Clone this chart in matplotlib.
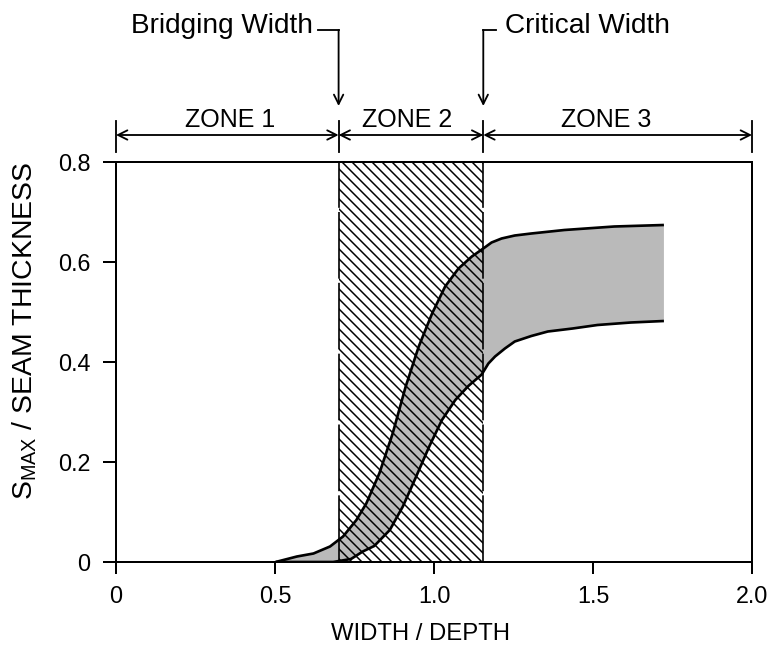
import numpy as np
import matplotlib
matplotlib.use('Agg')
import matplotlib.pyplot as plt

# ---- data ----
upper_x = [0.502, 0.569, 0.621, 0.673, 0.714, 0.756, 0.787, 0.828, 0.870, 0.911,
           0.952, 0.994, 1.035, 1.077, 1.119, 1.155, 1.181, 1.2125, 1.254, 1.306,
           1.410, 1.567, 1.723]
upper_y = [0.0, 0.011, 0.017, 0.031, 0.051, 0.084, 0.117, 0.177, 0.257, 0.351,
           0.431, 0.497, 0.551, 0.587, 0.611, 0.627, 0.639, 0.647, 0.653, 0.657,
           0.664, 0.671, 0.674]

lower_x = [0.502, 0.683, 0.739, 0.776, 0.812, 0.861, 0.902, 0.944, 0.985, 1.025,
           1.067, 1.108, 1.150, 1.171, 1.192, 1.223, 1.254, 1.306, 1.358, 1.436,
           1.514, 1.619, 1.723]
lower_y = [0.0, 0.0, 0.006, 0.021, 0.032, 0.064, 0.111, 0.171, 0.231, 0.284,
           0.324, 0.352, 0.375, 0.397, 0.411, 0.427, 0.441, 0.452, 0.461, 0.467,
           0.474, 0.479, 0.482]

zone_edges = [0.0, 0.70, 1.155, 2.0]
zone_labels = ['ZONE 1', 'ZONE 2', 'ZONE 3']
zone_label_x = [0.358, 0.915, 1.541]

xticks = [0, 0.5, 1.0, 1.5, 2.0]
xticklabels = ['0', '0.5', '1.0', '1.5', '2.0']
yticks = [0, 0.2, 0.4, 0.6, 0.8]
yticklabels = ['0', '0.2', '0.4', '0.6', '0.8']

# ---- style ----
plt.rcParams['font.family'] = ['Liberation Sans', 'DejaVu Sans']
plt.rcParams['hatch.linewidth'] = 0.9
plt.rcParams['hatch.color'] = 'black'

W, H, DPI = 771, 646, 120
fig = plt.figure(figsize=(W / DPI, H / DPI), dpi=DPI)
ax = fig.add_axes([116 / W, 1 - 562 / H, (752 - 116) / W, (562 - 162) / H])

ax.set_xlim(0, 2.0)
ax.set_ylim(0, 0.8)

# stippled band between the curves
band_x = np.concatenate([upper_x, lower_x[::-1]])
band_y = np.concatenate([upper_y, lower_y[::-1]])
ax.fill(band_x, band_y, facecolor='#bababa', edgecolor='none', zorder=1)

# hatched zone 2 box
ax.fill_between([zone_edges[1], zone_edges[2]], 0, 0.8, facecolor='none',
                edgecolor='black', hatch='\\\\\\\\', linewidth=0, zorder=2)
for e in zone_edges[1:3]:
    ax.plot([e, e], [0, 0.8], color='black', lw=1.0,
            linestyle=(0, (40, 2.5)), zorder=3)

# curves
ax.plot(upper_x, upper_y, color='black', lw=1.6, zorder=4,
        solid_joinstyle='round', solid_capstyle='butt')
ax.plot(lower_x, lower_y, color='black', lw=1.6, zorder=4,
        solid_joinstyle='round', solid_capstyle='butt')

# axes styling
for s in ax.spines.values():
    s.set_linewidth(1.2)
ax.set_xticks(xticks)
ax.set_xticklabels(xticklabels, fontsize=14)
ax.set_yticks(yticks)
ax.set_yticklabels(yticklabels, fontsize=14)
ax.tick_params(axis='x', direction='out', length=7, width=1.2, pad=7)
ax.tick_params(axis='y', direction='out', length=8, width=1.2, pad=7.5)

fig.text(421 / W, 1 - 634 / H, 'WIDTH / DEPTH', fontsize=14.3, ha='center',
         va='center')
fig.text(25 / W, 1 - 331 / H, r'S$_{\mathregular{MAX}}$ / SEAM THICKNESS',
         fontsize=17, rotation=90, ha='center', va='center')

# ---- zone annotations above the axes ----
tr = ax.get_xaxis_transform()
y_line = 1.0675
for e in zone_edges:
    ax.plot([e, e], [1.025, 1.1025], transform=tr, color='black', lw=1.1,
            clip_on=False)
for a, b in zip(zone_edges[:-1], zone_edges[1:]):
    ax.annotate('', xy=(b, y_line), xytext=(a, y_line), xycoords=tr,
                textcoords=tr, annotation_clip=False,
                arrowprops=dict(arrowstyle='<->', shrinkA=0, shrinkB=0,
                                lw=1.1, color='black', mutation_scale=14))
for lab, xl in zip(zone_labels, zone_label_x):
    ax.text(xl, 1.0875, lab, transform=tr, fontsize=15, ha='center',
            va='baseline', clip_on=False)

y_hook = 1.33
y_tip = 1.14
# Bridging width
bx = zone_edges[1]
ax.plot([bx - 0.065, bx], [y_hook, y_hook], transform=tr, color='black',
        lw=1.1, clip_on=False)
ax.annotate('', xy=(bx, y_tip), xytext=(bx, y_hook), xycoords=tr,
            textcoords=tr, annotation_clip=False,
            arrowprops=dict(arrowstyle='->', shrinkA=0, shrinkB=0, lw=1.1,
                            color='black', mutation_scale=14))
ax.text(bx - 0.081, 1.3225, 'Bridging Width', transform=tr, fontsize=16.8,
        ha='right', va='baseline', clip_on=False)
# Critical width
cx = zone_edges[2]
ax.plot([cx, cx + 0.04], [y_hook, y_hook], transform=tr, color='black',
        lw=1.1, clip_on=False)
ax.annotate('', xy=(cx, y_tip), xytext=(cx, y_hook), xycoords=tr,
            textcoords=tr, annotation_clip=False,
            arrowprops=dict(arrowstyle='->', shrinkA=0, shrinkB=0, lw=1.1,
                            color='black', mutation_scale=14))
ax.text(cx + 0.068, 1.3225, 'Critical Width', transform=tr, fontsize=16.8,
        ha='left', va='baseline', clip_on=False)

fig.savefig('out.png', dpi=DPI)
